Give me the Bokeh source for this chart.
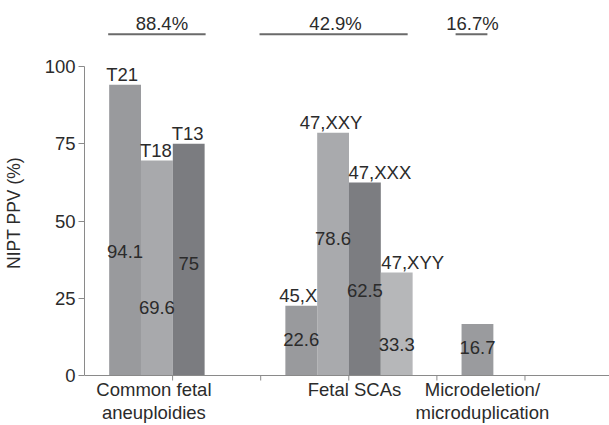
from bokeh.plotting import figure
from bokeh.models import Range1d, LinearAxis, FixedTicker, ColumnDataSource
from bokeh.core.properties import value
from bokeh.embed import file_html
from bokeh.resources import INLINE

# ---------------- data ----------------
group_names = ["Common fetal\naneuploidies", "Fetal SCAs", "Microdeletion/\nmicroduplication"]
group_ppv = ["88.4%", "42.9%", "16.7%"]
t_names = ["T21", "T18", "T13"]
t_values = [94.1, 69.6, 75.0]
sca_names = ["45,X", "47,XXY", "47,XXX", "47,XYY"]
sca_values = [22.6, 78.6, 62.5, 33.3]
micro_names = [""]
micro_values = [16.7]
y_ticks = [0, 25, 50, 75, 100]

bar_names = [t_names, sca_names, micro_names]
bar_values = [t_values, sca_values, micro_values]

# ---------------- layout / style ----------------
FONT = value("Liberation Sans")
FS = "18.5px"
TXT = "#2b2b2b"
PX = 1 / 88.6            # x data units per pixel (one tick interval = 88.6 px)
PY = 1 / 3.09            # y data units per pixel
BAR_W = 32 * PX
GROUP_OFFSET = 0.28      # start of each group inside its pair of tick intervals
bar_colors = [["#999a9d", "#a8a9ac", "#7b7c80"],
              ["#999a9d", "#a9aaad", "#7c7d81", "#b6b7b9"],
              ["#9a9b9e"]]
value_label_y = [[40.1, 22.0, 36.3], [11.7, 44.4, 27.4, 10.1], [8.9]]
name_dx = [[-3, -1, -1], [-3, -2, 15, 16], [0]]
cat_dx = [-3, 5.5, 5]
line_dx = [(-1, 1), (-26, -5), (-6, -6)]
ppv_dx = [5, -13.5, -5]
LINE_Y = 110.4
PPV_Y = 113.9

p = figure(width=609, height=425,
           x_range=Range1d(0, 528 * PX), y_range=Range1d(-50 * PY, 375 * PY),
           output_backend="svg", toolbar_location=None,
           x_axis_location=None, y_axis_location=None,
           min_border_left=81, min_border_right=0, min_border_top=0, min_border_bottom=0)
p.outline_line_color = None
p.xgrid.grid_line_color = None
p.ygrid.grid_line_color = None

yax = LinearAxis(ticker=FixedTicker(ticks=y_ticks), bounds=(0, 100),
                 axis_label="NIPT PPV (%)")
yax.axis_line_color = "#8a8a8a"
yax.major_tick_line_color = "#8a8a8a"
yax.major_tick_out = 6
yax.major_tick_in = 0
yax.minor_tick_line_color = None
yax.major_label_text_font = "Liberation Sans"
yax.major_label_text_font_size = FS
yax.major_label_text_color = TXT
yax.major_label_standoff = 3
yax.axis_label_text_font = "Liberation Sans"
yax.axis_label_text_font_size = "17.5px"
yax.axis_label_text_font_style = "normal"
yax.axis_label_text_color = TXT
yax.axis_label_standoff = 18
p.add_layout(yax, "left")

bx, bt, bw, bc = [], [], [], []
nx, ny, nt, ndx = [], [], [], []
vx, vy, vt = [], [], []
cx, cy, ct = [], [], []
lx0, lx1, ly = [], [], []
px_, py_, pt = [], [], []
for g, (names, vals) in enumerate(zip(bar_names, bar_values)):
    start = 2 * g + GROUP_OFFSET
    centers = [start + (j + 0.5) * BAR_W for j in range(len(vals))]
    for j, (nm, v) in enumerate(zip(names, vals)):
        bx.append(centers[j]); bt.append(v); bw.append(BAR_W); bc.append(bar_colors[g][j])
        if nm:
            nx.append(centers[j]); ny.append(v); nt.append(nm); ndx.append(name_dx[g][j])
        vx.append(centers[j]); vy.append(value_label_y[g][j])
        vt.append(("%.1f" % v).rstrip("0").rstrip("."))
    end = start + len(vals) * BAR_W
    gc = (start + end) / 2
    for k, line in enumerate(group_names[g].split("\n")):
        cx.append(gc + cat_dx[g] * PX); cy.append((-14 - 23 * k) * PY); ct.append(line)
    lx0.append(start + line_dx[g][0] * PX); lx1.append(end + line_dx[g][1] * PX); ly.append(LINE_Y)
    px_.append(gc + ppv_dx[g] * PX); py_.append(PPV_Y); pt.append(group_ppv[g])

p.vbar(x=bx, top=bt, width=bw, bottom=0, fill_color=bc, line_color=None)

# x axis line and ticks
xt = [1, 2, 3, 4, 5]
p.segment(x0=[0], y0=[0], x1=[528 * PX], y1=[0], line_color="#8a8a8a", line_width=1)
p.segment(x0=xt, y0=[0] * 5, x1=xt, y1=[-5 * PY] * 5, line_color="#8a8a8a", line_width=1)

p.text(x=nx, y=ny, text=nt, x_offset=ndx, y_offset=-10, text_align="center",
       text_baseline="middle", text_font=FONT, text_font_size=FS, text_color=TXT)
p.text(x=vx, y=vy, text=vt, text_align="center", text_baseline="middle",
       text_font=FONT, text_font_size=FS, text_color=TXT)
p.text(x=cx, y=cy, text=ct, text_align="center", text_baseline="middle",
       text_font=FONT, text_font_size=FS, text_color=TXT)
p.segment(x0=lx0, y0=ly, x1=lx1, y1=ly, line_color="#6a6a6a", line_width=2)
p.text(x=px_, y=py_, text=pt, text_align="center", text_baseline="middle",
       text_font=FONT, text_font_size=FS, text_color=TXT)

open("out.html", "w").write(file_html(p, INLINE))
